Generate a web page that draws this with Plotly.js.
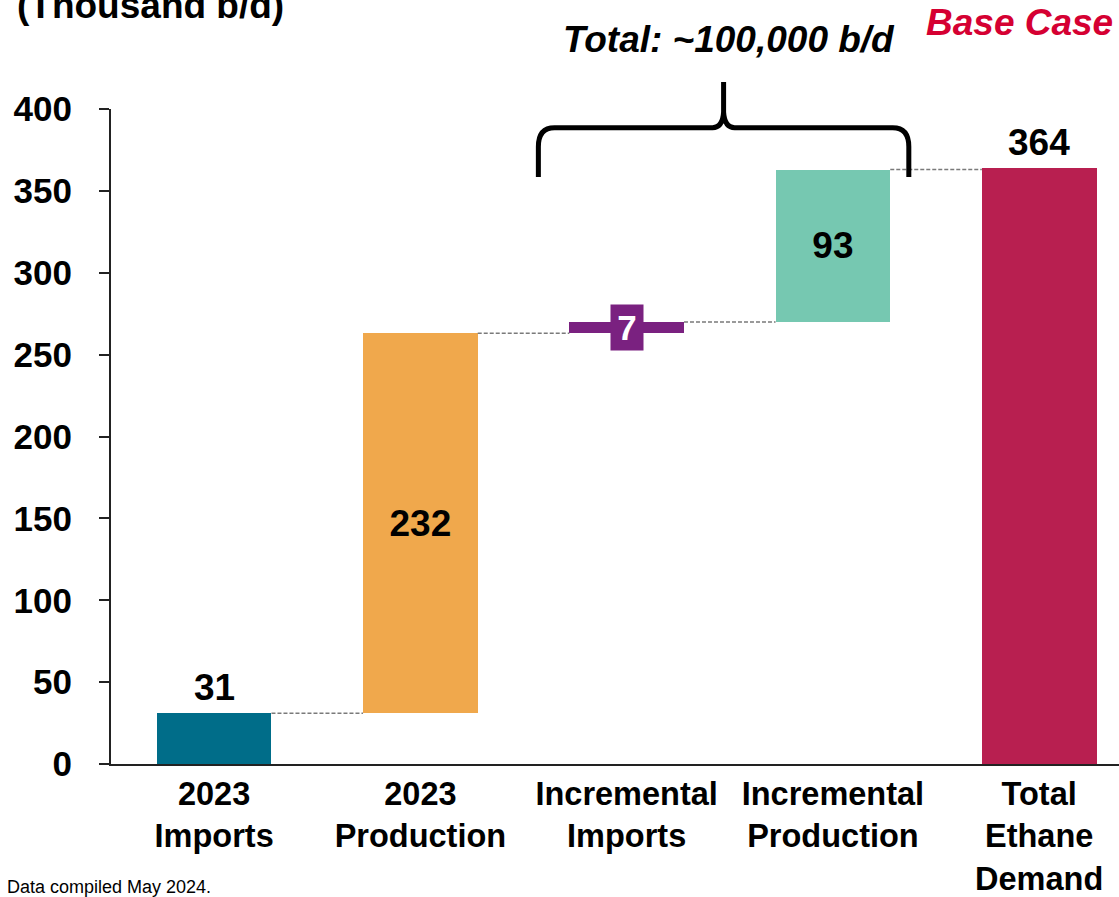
<!DOCTYPE html>
<html>
<head>
<meta charset="utf-8">
<script src="https://cdn.plot.ly/plotly-3.0.1.min.js"></script>
<style>
  html, body { margin: 0; padding: 0; background: #ffffff; }
  #chart { width: 1119px; height: 897px; }
</style>
</head>
<body>
<div id="chart"></div>
<script>
// Ethane supply build-up to total demand (thousand b/d)
const categories = [
  '2023<br>Imports',
  '2023<br>Production',
  'Incremental<br>Imports',
  'Incremental<br>Production',
  'Total<br>Ethane<br>Demand'
];
const values = [31, 232, 7, 93, 364];
// steps stack on the running sum; the last bar is a full total from zero
const isTotal = [false, false, false, false, true];
const barColors = ['#006D89', '#F0A84C', '#7A2180', '#76C8B1', '#B81F50'];
const labelPositions = ['outside', 'inside', 'tag', 'inside', 'outside'];
const yTicks = [0, 50, 100, 150, 200, 250, 300, 350, 400];

const FONT = 'Liberation Sans, Arial, Helvetica, sans-serif';
const BAR_WIDTH = 0.556;
const X_RANGE = [-0.5, 4.387];
const Y_RANGE = [0, 400];
const LABEL_SIZE = 37;

// bases of each floating bar from the running total
const bases = [];
const tops = [];
let running = 0;
values.forEach((v, i) => {
  if (isTotal[i]) {
    bases.push(0);
    tops.push(v);
  } else {
    bases.push(running);
    running += v;
    tops.push(running);
  }
});

const trace = {
  type: 'bar',
  x: categories,
  y: values,
  base: bases,
  width: BAR_WIDTH,
  marker: { color: barColors, line: { width: 0 } },
  text: values.map(String),
  textposition: labelPositions.map(p => (p === 'inside' ? 'inside' : 'none')),
  insidetextanchor: 'middle',
  constraintext: 'none',
  cliponaxis: false,
  insidetextfont: { family: FONT, size: LABEL_SIZE, color: '#000000', weight: 'bold' },
  hoverinfo: 'skip'
};

// dashed connectors between consecutive bars at the running level
const shapes = [];
for (let i = 0; i < values.length - 1; i++) {
  const level = tops[i];
  shapes.push({
    type: 'line', xref: 'x', yref: 'y',
    x0: i + BAR_WIDTH / 2, x1: i + 1 - BAR_WIDTH / 2,
    y0: level, y1: level,
    line: { color: '#7a7a7a', width: 1.5, dash: '4px,2px' }
  });
}

// curly brace spanning the two incremental bars
const toPaperX = x => (x - X_RANGE[0]) / (X_RANGE[1] - X_RANGE[0]);
const toPaperY = y => (y - Y_RANGE[0]) / (Y_RANGE[1] - Y_RANGE[0]);
const bL = toPaperX(2 - BAR_WIDTH / 2 - 0.15);
const bR = toPaperX(3 + BAR_WIDTH / 2 + 0.09);
const bM = (bL + bR) / 2;
const dx = 0.016, dm = 0.011;
const yEnd = toPaperY(358.5), yBar = toPaperY(388.6), yCorner = toPaperY(377), yStem = toPaperY(398), yTip = toPaperY(416.5);
const bracePath =
  `M${bL},${yEnd} L${bL},${yCorner} Q${bL},${yBar} ${bL + dx},${yBar} ` +
  `L${bM - dm},${yBar} Q${bM - 0.001},${yBar} ${bM},${yStem} L${bM},${yTip} ` +
  `L${bM},${yStem} Q${bM + 0.001},${yBar} ${bM + dm},${yBar} ` +
  `L${bR - dx},${yBar} Q${bR},${yBar} ${bR},${yCorner} L${bR},${yEnd}`;
shapes.push({
  type: 'path', xref: 'paper', yref: 'paper',
  path: bracePath,
  line: { color: '#000000', width: 5 }
});

const annotations = [];

// value labels sitting above the outside-labelled bars
values.forEach((v, i) => {
  if (labelPositions[i] === 'outside') {
    annotations.push({
      xref: 'x', yref: 'y',
      x: i, y: tops[i],
      text: String(v),
      showarrow: false,
      xanchor: 'center', yanchor: 'bottom',
      yshift: 3,
      font: { family: FONT, size: LABEL_SIZE, color: '#000000', weight: 'bold' }
    });
  } else if (labelPositions[i] === 'tag') {
    // white value tag on a thin bar
    annotations.push({
      xref: 'x', yref: 'y',
      x: i, y: bases[i] + v / 2,
      text: String(v),
      showarrow: false,
      font: { family: FONT, size: 35, color: '#ffffff', weight: 'bold' },
      bgcolor: barColors[i],
      width: 32, height: 45, borderpad: 0,
      xanchor: 'center', yanchor: 'middle'
    });
  }
});

annotations.push(
  {
    xref: 'paper', yref: 'paper',
    x: -0.0952, y: 1.158,
    xanchor: 'left', yanchor: 'middle',
    text: '(Thousand b/d)',
    showarrow: false,
    font: { family: FONT, size: 37, color: '#000000', weight: 'bold' }
  },
  {
    xref: 'paper', yref: 'paper',
    x: 0.6135, y: 1.1063,
    xanchor: 'center', yanchor: 'middle',
    text: '<i>Total: ~100,000 b/d</i>',
    showarrow: false,
    font: { family: FONT, size: 37, color: '#000000', weight: 'bold' }
  },
  {
    xref: 'paper', yref: 'paper',
    x: 0.9008, y: 1.1322,
    xanchor: 'center', yanchor: 'middle',
    text: '<i>Base Case</i>',
    showarrow: false,
    font: { family: FONT, size: 37, color: '#D50032', weight: 'bold' }
  },
  {
    xref: 'paper', yref: 'paper',
    x: -0.1052, y: -0.1878,
    xanchor: 'left', yanchor: 'middle',
    text: 'Data compiled May 2024.',
    showarrow: false,
    font: { family: FONT, size: 18, color: '#000000' }
  }
);

const layout = {
  width: 1119,
  height: 897,
  margin: { l: 111, r: 0, t: 109, b: 133, pad: 0 },
  paper_bgcolor: '#ffffff',
  plot_bgcolor: '#ffffff',
  showlegend: false,
  font: { family: FONT, color: '#000000' },
  bargap: 0,
  xaxis: {
    type: 'category',
    range: X_RANGE,
    showline: true,
    linecolor: '#222222',
    linewidth: 2,
    ticks: '',
    showgrid: false,
    zeroline: false,
    tickfont: { family: FONT, size: 32.5, color: '#000000', weight: 'bold' },
    fixedrange: true
  },
  yaxis: {
    range: Y_RANGE,
    tickvals: yTicks,
    ticktext: yTicks.map(String),
    showline: true,
    linecolor: '#222222',
    linewidth: 2,
    ticks: 'outside',
    ticklen: 10,
    tickwidth: 2,
    tickcolor: '#222222',
    showgrid: false,
    zeroline: false,
    ticklabelstandoff: 20,
    tickfont: { family: FONT, size: 35, color: '#000000', weight: 'bold' },
    fixedrange: true
  },
  shapes: shapes,
  annotations: annotations
};

Plotly.newPlot('chart', [trace], layout, { displayModeBar: false, staticPlot: true });
</script>
</body>
</html>
